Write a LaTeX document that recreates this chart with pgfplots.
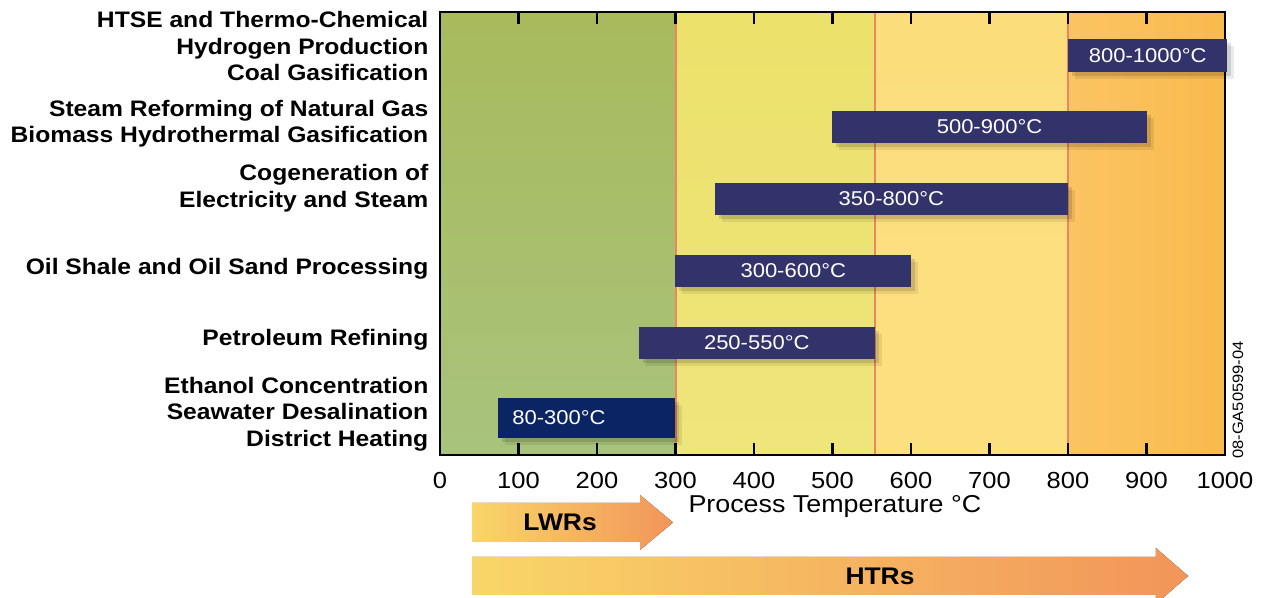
\documentclass[border=0pt]{standalone}
\usepackage{fontspec}
\setmainfont{Liberation Sans}[FakeStretch=1.1]
\usepackage{pgfplots}
\pgfplotsset{compat=1.18}

\definecolor{bargray}{HTML}{33336B}
\definecolor{barnavy}{HTML}{0B2463}
\definecolor{redline}{HTML}{EA8660}
\definecolor{arrY}{HTML}{F9D668}
\definecolor{arrO}{HTML}{F2955A}
\definecolor{grnT}{RGB}{168,186,92}
\definecolor{grnB}{RGB}{168,195,124}
\definecolor{ylwT}{RGB}{236,225,106}
\definecolor{ylwB}{RGB}{238,229,124}
\definecolor{lylT}{RGB}{251,221,124}
\definecolor{lylB}{RGB}{252,224,128}
\definecolor{orgL}{RGB}{251,196,98}
\definecolor{orgR}{RGB}{249,186,78}

\pgfplotsset{frame/.style={
  at={(220pt,71.5pt)}, anchor=south west,
  scale only axis, width=392.5pt, height=221.5pt,
  xmin=0, xmax=1000, ymin=0, ymax=443, clip=false}}

% range bar: start, end, bottom, top (y in pixel rows of the figure), colour
\newcommand{\rangebar}[5]{%
  \addplot[fill=#5, draw=none,
    preaction={fill=black, opacity=0.08, transform canvas={shift={(3.5pt,-3.5pt)}}},
    preaction={fill=black, opacity=0.12, transform canvas={shift={(2pt,-2pt)}}}]
    coordinates {(#1,#3) (#2,#3) (#2,#4) (#1,#4)} --cycle;}
% inner tick pair at x = #1
\newcommand{\tickpair}[1]{%
  \addplot[black, line width=1.2pt, mark=none] coordinates {(#1,0) (#1,12)};
  \addplot[black, line width=1.2pt, mark=none] coordinates {(#1,431) (#1,443)};}

\begin{document}
\begin{tikzpicture}
\useasboundingbox (0,0) rectangle (632.5pt,299pt);
% temperature bands
\begin{axis}[frame, hide axis]
\addplot[draw=none, top color=grnT, bottom color=grnB]
  coordinates {(0,0) (0,443) (300,443) (300,0)} --cycle;
\addplot[draw=none, top color=ylwT, bottom color=ylwB]
  coordinates {(300,0) (300,443) (554,443) (554,0)} --cycle;
\addplot[draw=none, top color=lylT, bottom color=lylB]
  coordinates {(554,0) (554,443) (800,443) (800,0)} --cycle;
\addplot[draw=none, left color=orgL, right color=orgR]
  coordinates {(800,0) (800,443) (1000,443) (1000,0)} --cycle;
\addplot[redline, line width=1pt] coordinates {(300,0) (300,443)};
\addplot[redline, line width=1pt] coordinates {(554,0) (554,443)};
\addplot[redline, line width=1pt] coordinates {(800,0) (800,443)};
\end{axis}
\begin{axis}[frame,
  axis line style={line width=1pt},
  xtick={0,100,...,1000}, xtick pos=bottom,
  major tick length=0pt,
  ytick=\empty,
  /pgf/number format/1000 sep={},
  /pgf/number format/assume math mode=true,
  xticklabel style={font=\fontsize{11.6}{13}\selectfont, yshift=-5pt},
  xlabel={Process Temperature °C},
  xlabel style={at={(axis description cs:0.503,-0.117)}, anchor=center,
    font=\fontsize{12.2}{14}\selectfont},
]
% inner tick marks, top and bottom
\tickpair{100}\tickpair{200}\tickpair{300}
\tickpair{400}\tickpair{500}\tickpair{600}
\tickpair{700}\tickpair{800}\tickpair{900}
% ranges
\rangebar{800}{1003}{383}{416}{bargray}
\rangebar{500}{900}{312}{344}{bargray}
\rangebar{350}{800}{240}{272}{bargray}
\rangebar{300}{600}{168}{200}{bargray}
\rangebar{253}{554}{96}{128}{bargray}
\rangebar{74}{300}{17}{57}{barnavy}
\begin{scope}[every node/.style={white, font=\fontsize{10}{12}\selectfont}]
\node at (axis cs:901.5,399.5) {800-1000°C};
\node at (axis cs:700,328) {500-900°C};
\node at (axis cs:575,256) {350-800°C};
\node at (axis cs:450,184) {300-600°C};
\node at (axis cs:403.5,112) {250-550°C};
\node[anchor=west, inner sep=0pt] at (axis cs:91.7,37) {80-300°C};
\end{scope}
% application labels
\begin{scope}[every node/.style={anchor=east, align=right, xshift=-2.3pt,
    font=\fontsize{11.2}{13.25}\selectfont\bfseries}]
\node at (axis cs:0,408.5) {HTSE and Thermo-Chemical\\Hydrogen Production\\Coal Gasification};
\node at (axis cs:0,331.5) {Steam Reforming of Natural Gas\\Biomass Hydrothermal Gasification};
\node at (axis cs:0,267) {Cogeneration of\\Electricity and Steam};
\node at (axis cs:0,186) {Oil Shale and Oil Sand Processing};
\node at (axis cs:0,115) {Petroleum Refining};
\node at (axis cs:0,41) {Ethanol Concentration\\Seawater Desalination\\District Heating};
\end{scope}
% reactor arrows
\fill[left color=arrY, right color=arrO] (axis cs:40.8,-48) -- (axis cs:254.8,-48) -- (axis cs:254.8,-40)
  -- (axis cs:296.8,-67.5) -- (axis cs:254.8,-95) -- (axis cs:254.8,-87) -- (axis cs:40.8,-87) -- cycle;
\fill[left color=arrY, right color=arrO] (axis cs:40.8,-102) -- (axis cs:912,-102) -- (axis cs:912,-93)
  -- (axis cs:952.9,-121) -- (axis cs:912,-149) -- (axis cs:912,-140) -- (axis cs:40.8,-140) -- cycle;
\node[font=\fontsize{12}{14}\selectfont\bfseries] at (axis cs:152.9,-67) {LWRs};
\node[font=\fontsize{12}{14}\selectfont\bfseries] at (axis cs:560.5,-121) {HTRs};
\node[rotate=90, font=\fontsize{7.5}{9}\selectfont] at (axis cs:1016.6,55) {08-GA50599-04};
\end{axis}
\end{tikzpicture}
\end{document}
